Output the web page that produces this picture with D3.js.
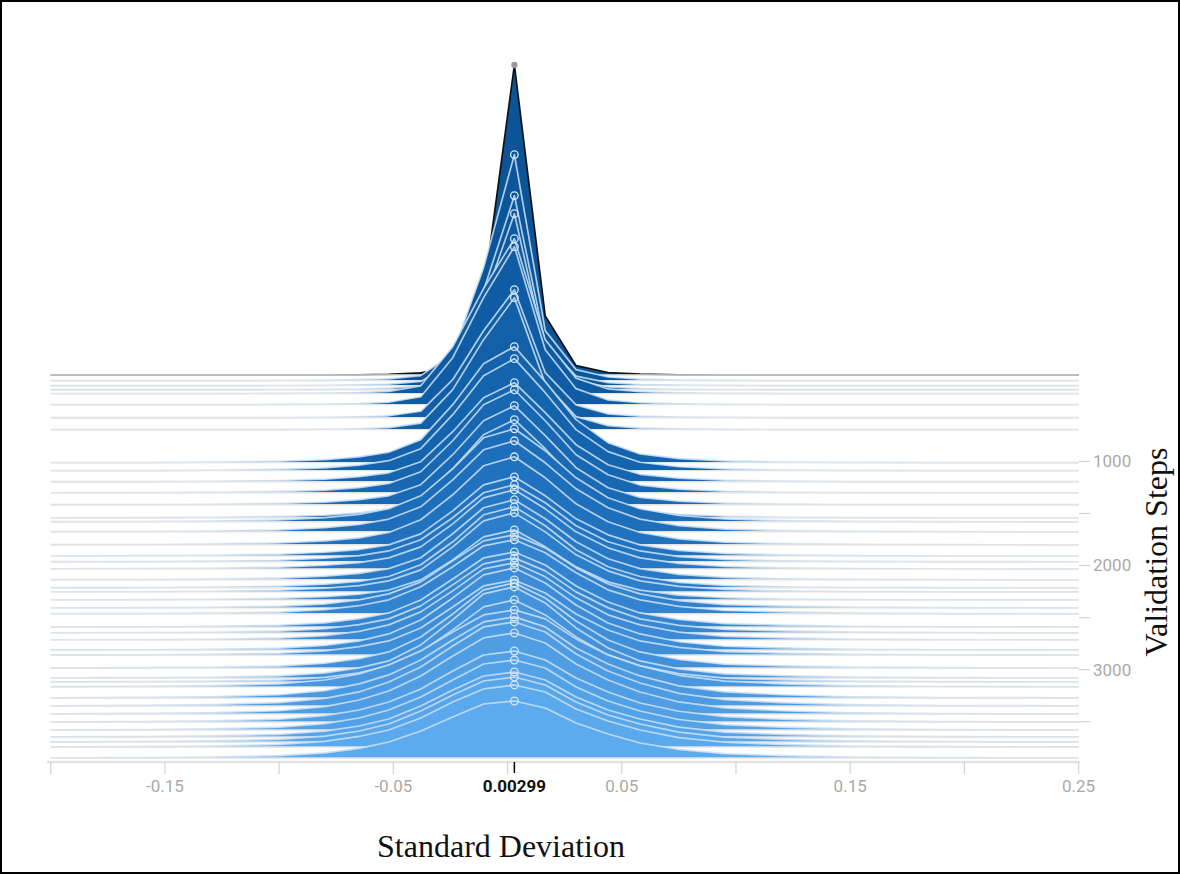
<!doctype html>
<html lang="en">
<head>
<meta charset="utf-8">
<title>Standard Deviation – histogram by validation step</title>
<script src="https://cdn.jsdelivr.net/npm/d3@7"></script>
<style>
  html, body { margin: 0; padding: 0; background: #fff; }
  svg { display: block; }
  .tick-label { font-family: Roboto, "Noto Sans", sans-serif; fill: #a9a9a9; }
  .title { font-family: "Liberation Serif", "Times New Roman", serif; fill: #111; }
</style>
</head>
<body>
<svg id="chart" width="1180" height="874"></svg>
<script>
// bin centres on the x axis (value of the weight std)
const bins = [-0.2, -0.16, -0.13, -0.1, -0.08, -0.065, -0.052, -0.038, -0.024, -0.0105, 0.003,
  0.0165, 0.03, 0.044, 0.058, 0.075, 0.095, 0.12, 0.15, 0.19, 0.25];

// validation step of each histogram (back to front)
const steps = [170, 224, 272, 311, 349, 455, 580, 695, 1012, 1089, 1195, 1301, 1416, 1541, 1580,
  1676, 1801, 1907, 1964, 2032, 2137, 2214, 2253, 2330, 2407, 2464, 2590, 2647, 2714, 2811,
  2859, 2984, 3080, 3118, 3166, 3272, 3349, 3426, 3503, 3580, 3647, 3695, 3743, 3849];

// counts per bin, one row per step
const counts = [
  [0, 0, 0, 0, 0, 0.2, 0.6, 2.2, 7.8, 81, 310, 59, 9.3, 2.5, 0.8, 0.2, 0, 0, 0, 0, 0],
  [0, 0, 0, 0.1, 0.3, 0.9, 1.8, 5, 27, 113, 226, 50, 11, 3.6, 1.4, 0.6, 0.2, 0, 0, 0, 0],
  [0, 0, 0, 0.1, 0.3, 0.8, 1.5, 4.2, 23, 95, 190, 42, 9.5, 3, 1.1, 0.5, 0.2, 0, 0, 0, 0],
  [0, 0, 0, 0.1, 0.3, 0.7, 1.4, 3.9, 21, 88, 176, 39, 8.8, 2.8, 1.1, 0.4, 0.2, 0, 0, 0, 0],
  [0, 0, 0, 0.2, 0.5, 1.1, 2.3, 7.8, 47, 105, 155, 54, 15.5, 4.7, 1.9, 0.8, 0.3, 0.1, 0, 0, 0],
  [0, 0, 0, 0.2, 0.5, 1.1, 2.4, 7.9, 47, 107, 158, 55, 16, 4.7, 1.9, 0.8, 0.3, 0.1, 0, 0, 0],
  [0, 0, 0, 0.1, 0.4, 0.9, 1.9, 6.4, 38, 87, 128, 45, 12.8, 3.8, 1.5, 0.6, 0.3, 0.1, 0, 0, 0],
  [0, 0, 0, 0.1, 0.4, 0.9, 2, 6.6, 40, 90, 132, 46, 13, 4, 1.6, 0.7, 0.3, 0.1, 0, 0, 0],
  [0, 0.1, 0.5, 1.4, 2.9, 5.8, 10.4, 23, 58, 99, 116, 81, 43, 20, 8.7, 4.1, 1.7, 0.6, 0.2, 0, 0],
  [0, 0.1, 0.4, 1.3, 2.8, 5.6, 10, 22, 56, 95, 112, 78, 41, 19, 8.4, 3.9, 1.7, 0.6, 0.2, 0, 0],
  [0, 0.1, 0.4, 1.2, 2.5, 5, 8.9, 20, 50, 84, 99, 69, 37, 17, 7.4, 3.5, 1.5, 0.5, 0.1, 0, 0],
  [0, 0.1, 0.4, 1.2, 2.6, 5.2, 9.3, 21, 52, 88, 103, 72, 38, 18, 7.7, 3.6, 1.5, 0.5, 0.2, 0, 0],
  [0, 0.1, 0.4, 1.2, 2.5, 5, 8.9, 20, 50, 84, 99, 69, 37, 17, 7.4, 3.5, 1.5, 0.5, 0.1, 0, 0],
  [0, 0.1, 0.4, 1.2, 2.5, 4.9, 8.8, 20, 49, 83, 98, 69, 36, 17, 7.4, 3.4, 1.5, 0.5, 0.1, 0, 0],
  [0.1, 0.3, 0.7, 1.9, 4.2, 7.4, 13, 26, 53, 84, 93, 71, 44, 24, 13, 6.3, 2.8, 1.1, 0.4, 0.1, 0],
  [0.1, 0.3, 0.7, 1.8, 4.1, 7.3, 12.7, 25, 52, 82, 91, 69, 43, 24, 12.7, 6.2, 2.7, 1.1, 0.4, 0.1, 0],
  [0.1, 0.3, 0.7, 1.8, 4, 7, 12.3, 25, 50, 79, 88, 67, 41, 23, 12.3, 6, 2.6, 1.1, 0.4, 0.1, 0],
  [0.1, 0.2, 0.6, 1.6, 3.6, 6.3, 11, 22, 45, 71, 79, 60, 37, 21, 11, 5.4, 2.4, 0.9, 0.3, 0.1, 0],
  [0.1, 0.2, 0.6, 1.5, 3.5, 6.2, 10.8, 22, 44, 69, 77, 59, 36, 20, 10.8, 5.2, 2.3, 0.9, 0.3, 0.1, 0],
  [0.1, 0.2, 0.6, 1.6, 3.6, 6.3, 11, 22, 45, 71, 79, 60, 37, 21, 11, 5.4, 2.4, 0.9, 0.3, 0.1, 0],
  [0.1, 0.2, 0.6, 1.6, 3.6, 6.4, 11.2, 22, 46, 72, 80, 61, 38, 21, 11.2, 5.4, 2.4, 1, 0.3, 0.1, 0],
  [0.1, 0.2, 0.6, 1.6, 3.6, 6.5, 11.3, 23, 46, 73, 81, 62, 38, 21, 11.3, 5.5, 2.4, 1, 0.3, 0.1, 0],
  [0.1, 0.2, 0.6, 1.6, 3.6, 6.3, 11, 22, 45, 71, 79, 60, 37, 21, 11, 5.4, 2.4, 0.9, 0.3, 0.1, 0],
  [0.1, 0.2, 0.6, 1.4, 3.2, 5.6, 9.8, 20, 40, 63, 70, 53, 33, 18, 9.8, 4.8, 2.1, 0.8, 0.3, 0.1, 0],
  [0.1, 0.2, 0.6, 1.6, 4, 8, 14, 26, 47, 67, 73, 60, 40, 24, 14, 7.3, 3.3, 1.8, 0.7, 0.2, 0],
  [0.1, 0.2, 0.6, 1.6, 4.1, 8.1, 14, 27, 47, 68, 74, 61, 41, 24, 14, 7.4, 3.3, 1.9, 0.7, 0.2, 0],
  [0.1, 0.2, 0.6, 1.7, 4.1, 8.3, 14, 27, 48, 69, 75, 62, 41, 25, 14, 7.5, 3.4, 1.9, 0.7, 0.2, 0],
  [0.1, 0.2, 0.6, 1.7, 4.1, 8.3, 14, 27, 48, 69, 75, 62, 41, 25, 14, 7.5, 3.4, 1.9, 0.7, 0.2, 0],
  [0.1, 0.2, 0.6, 1.7, 4.2, 8.5, 15, 28, 49, 71, 77, 63, 42, 25, 15, 7.7, 3.5, 1.9, 0.7, 0.2, 0],
  [0.1, 0.2, 0.7, 1.8, 4.5, 9, 16, 30, 52, 75, 82, 67, 45, 27, 16, 8.2, 3.7, 2.1, 0.7, 0.2, 0],
  [0.1, 0.2, 0.6, 1.7, 4.1, 8.3, 14, 27, 48, 69, 75, 62, 41, 25, 14, 7.5, 3.4, 1.9, 0.7, 0.2, 0],
  [0.1, 0.3, 0.7, 1.9, 4.7, 9.4, 16, 31, 54, 78, 85, 70, 47, 28, 16, 8.5, 3.8, 2.1, 0.8, 0.3, 0],
  [0.1, 0.3, 0.7, 2, 5, 10, 17, 33, 58, 84, 91, 75, 50, 30, 17, 9.1, 4.1, 2.3, 0.8, 0.3, 0],
  [0.1, 0.2, 0.7, 1.8, 4.5, 9, 16, 30, 52, 75, 82, 67, 45, 27, 16, 8.2, 3.7, 2.1, 0.7, 0.2, 0],
  [0.2, 0.5, 1.2, 3.1, 6.9, 13, 22, 36, 55, 72, 77, 68, 48, 32, 21, 11.6, 5.8, 3.1, 1.2, 0.4, 0.1],
  [0.2, 0.5, 1.2, 3.2, 7.3, 14, 23, 38, 58, 76, 81, 71, 50, 34, 22, 12, 6.1, 3.2, 1.2, 0.4, 0.1],
  [0.2, 0.5, 1.3, 3.4, 7.6, 14, 24, 39, 60, 79, 84, 74, 52, 35, 23, 12.6, 6.3, 3.4, 1.3, 0.4, 0.1],
  [0.2, 0.5, 1.2, 3.2, 7.3, 14, 23, 38, 58, 76, 81, 71, 50, 34, 22, 12, 6.1, 3.2, 1.2, 0.4, 0.1],
  [0.1, 0.4, 1.1, 2.8, 6.4, 12, 20, 33, 51, 67, 71, 62, 44, 30, 19, 10.7, 5.3, 2.8, 1.1, 0.4, 0.1],
  [0.1, 0.4, 1.1, 2.8, 6.3, 12, 20, 33, 50, 66, 70, 62, 43, 29, 19, 10.5, 5.3, 2.8, 1.1, 0.4, 0.1],
  [0.1, 0.4, 1, 2.6, 5.9, 11, 18, 31, 47, 61, 65, 57, 40, 27, 18, 9.8, 4.9, 2.6, 1, 0.3, 0.1],
  [0.1, 0.4, 1, 2.6, 5.9, 11, 18, 31, 47, 61, 65, 57, 40, 27, 18, 9.8, 4.9, 2.6, 1, 0.3, 0.1],
  [0.1, 0.4, 0.9, 2.5, 5.6, 10.5, 17, 29, 45, 58, 62, 55, 38, 26, 17, 9.3, 4.7, 2.5, 0.9, 0.3, 0.1],
  [0.1, 0.3, 0.9, 2.3, 5.1, 9.7, 16, 27, 41, 54, 57, 50, 35, 24, 15, 8.6, 4.3, 2.3, 0.9, 0.3, 0.1]
];

const xTicks = [-0.2, -0.15, -0.1, -0.05, 0, 0.05, 0.1, 0.15, 0.2, 0.25];
const xLabelled = [-0.15, -0.05, 0.05, 0.15, 0.25];
const stepTicks = [1000, 1500, 2000, 2500, 3000, 3500];
const stepLabelled = [1000, 2000, 3000];
const hoverValue = 0.00299;

const svg = d3.select("#chart");

const x = d3.scaleLinear().domain([-0.2, 0.25]).range([50.7, 1078.6]);
const yStep = d3.scaleLinear().domain(d3.extent(steps)).range([375, 758]);
const h = d3.scaleLinear().domain([0, 310]).range([0, 310]);
const color = d3.interpolateRgbBasis(["#0a5497", "#1566b2", "#2a7dca", "#4493dc", "#5cabef"]);

// frame
svg.append("rect")
  .attr("x", 1).attr("y", 1).attr("width", 1178).attr("height", 872)
  .attr("fill", "none").attr("stroke", "#000").attr("stroke-width", 2);

const plot = svg.append("g");
const hoverBin = bins.indexOf(0.003);

counts.forEach((row, i) => {
  const base = yStep(steps[i]);
  const pts = bins.map((b, k) => [b, row[k]]);
  const g = plot.append("g");

  g.append("path")
    .datum(pts)
    .attr("fill", color(i / (counts.length - 1)))
    .attr("d", d3.area()
      .x(d => x(d[0]))
      .y0(base)
      .y1(d => base - h(d[1])));

  g.append("path")
    .datum(pts)
    .attr("fill", "none")
    .attr("stroke", i === 0 ? "#111" : "#cde2f6")
    .attr("stroke-opacity", i === 0 ? 1 : 0.85)
    .attr("stroke-width", 1.7)
    .attr("stroke-linejoin", "round")
    .attr("d", d3.line()
      .x(d => x(d[0]))
      .y(d => base - h(d[1])));

  g.append("line")
    .attr("x1", x(-0.2)).attr("x2", x(0.25))
    .attr("y1", base).attr("y2", base)
    .attr("stroke", "#e3e3e3").attr("stroke-width", 1.4);

  g.append("circle")
    .attr("cx", x(hoverValue))
    .attr("cy", base - h(row[hoverBin]))
    .attr("r", i === 0 ? 2.5 : 3.8)
    .attr("fill", i === 0 ? "#999" : "none")
    .attr("stroke", i === 0 ? "#999" : "#d6e8f8")
    .attr("stroke-width", 1.3);
});

// x axis
const axisY = 762;
const xAxis = svg.append("g");
xAxis.append("line")
  .attr("x1", 47).attr("x2", x(0.25) + 1)
  .attr("y1", axisY).attr("y2", axisY)
  .attr("stroke", "#e3e3e3").attr("stroke-width", 2.5);
xAxis.selectAll("line.tick").data(xTicks).join("line")
  .attr("class", "tick")
  .attr("x1", d => x(d)).attr("x2", d => x(d))
  .attr("y1", axisY).attr("y2", axisY + 12)
  .attr("stroke", "#d4d4d4").attr("stroke-width", 1.2);
xAxis.selectAll("text").data(xLabelled).join("text")
  .attr("class", "tick-label")
  .attr("x", d => x(d)).attr("y", 792)
  .attr("text-anchor", "middle")
  .attr("font-size", 17)
  .text(d => String(d));

// hovered value on the x axis
xAxis.append("line")
  .attr("x1", x(hoverValue)).attr("x2", x(hoverValue))
  .attr("y1", axisY).attr("y2", axisY + 11)
  .attr("stroke", "#000").attr("stroke-width", 1.5);
xAxis.append("text")
  .attr("x", x(hoverValue)).attr("y", 792)
  .attr("text-anchor", "middle")
  .attr("font-family", "Roboto, 'Noto Sans', sans-serif")
  .attr("font-weight", "bold")
  .attr("font-size", 17)
  .attr("fill", "#111")
  .text(hoverValue);

// step axis on the right
const yAxis = svg.append("g");
yAxis.selectAll("line").data(stepTicks).join("line")
  .attr("x1", 1079).attr("x2", 1090)
  .attr("y1", d => yStep(d)).attr("y2", d => yStep(d))
  .attr("stroke", "#d4d4d4").attr("stroke-width", 1.2);
yAxis.selectAll("text").data(stepLabelled).join("text")
  .attr("class", "tick-label")
  .attr("x", 1093).attr("y", d => yStep(d))
  .attr("dy", "0.35em")
  .attr("font-size", 17)
  .text(d => d);

// axis titles
svg.append("text")
  .attr("class", "title")
  .attr("x", 501).attr("y", 857)
  .attr("text-anchor", "middle")
  .attr("font-size", 32)
  .text("Standard Deviation");

svg.append("text")
  .attr("class", "title")
  .attr("transform", "translate(1167,552) rotate(-90)")
  .attr("text-anchor", "middle")
  .attr("font-size", 32)
  .text("Validation Steps");
</script>
</body>
</html>
